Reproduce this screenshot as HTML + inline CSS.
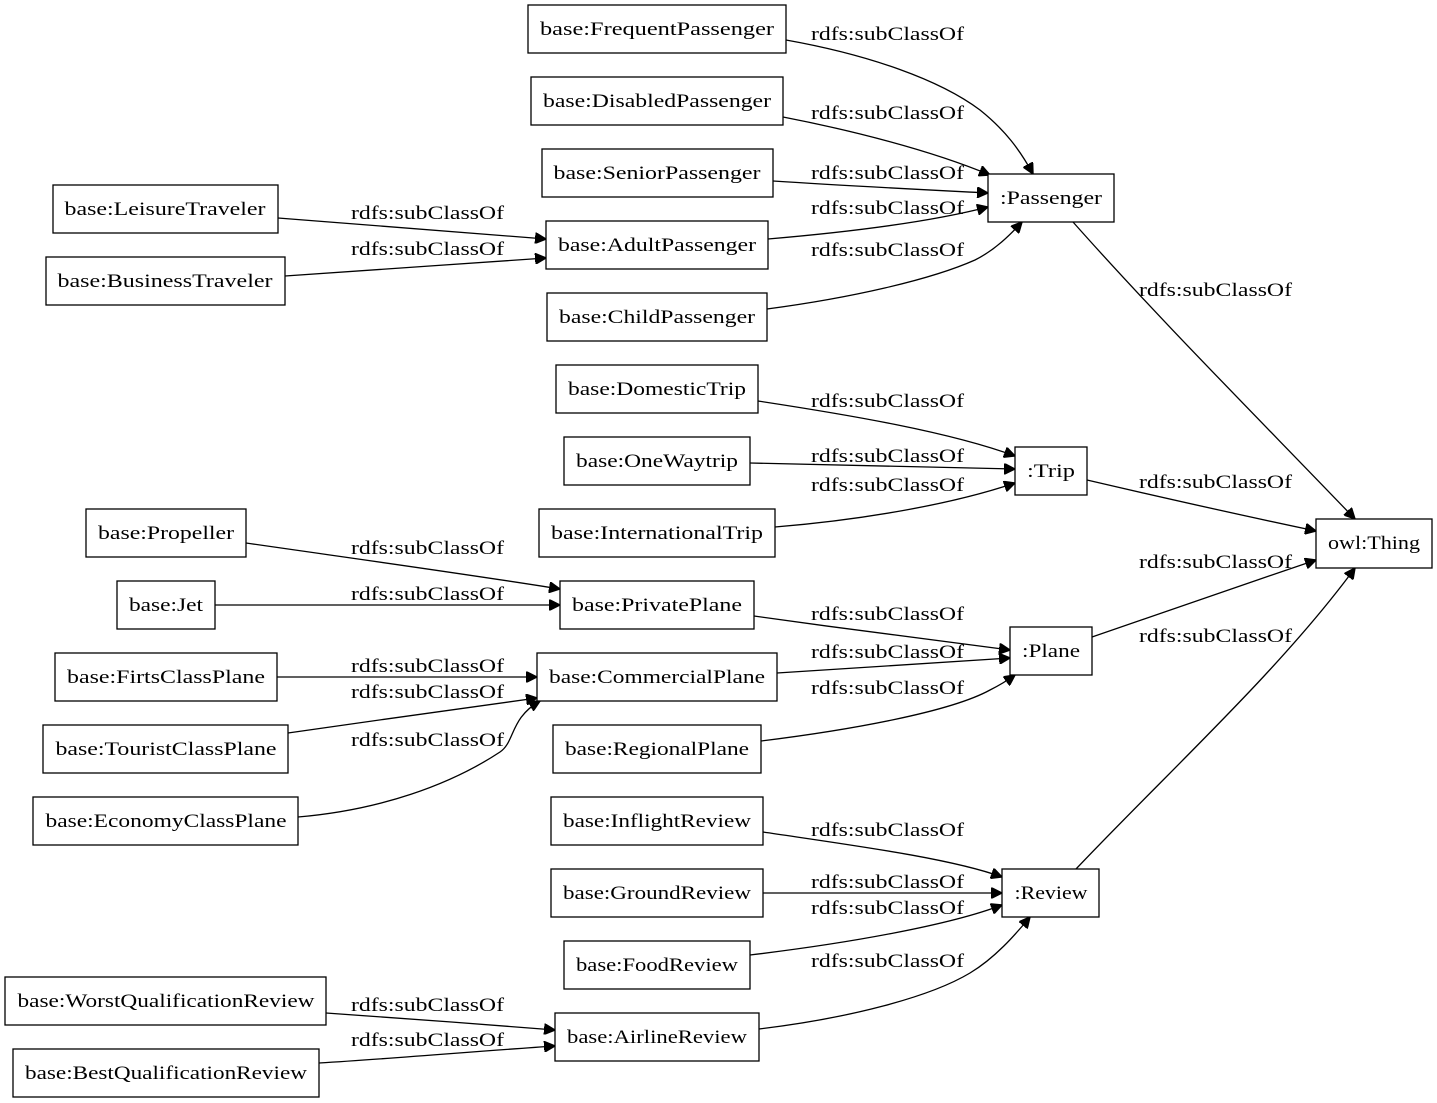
<!DOCTYPE html>
<html><head><meta charset="utf-8"><style>
body{margin:0;background:#fff}
svg{display:block}
text{font-family:"Liberation Serif",serif;font-size:19px;fill:#000}
rect{fill:#fff;stroke:#000;stroke-width:1.3}
path{fill:none;stroke:#000;stroke-width:1.3}
</style></head><body>
<svg width="1437" height="1103" viewBox="0 0 1437 1103" xmlns="http://www.w3.org/2000/svg">
<defs><marker id="a" viewBox="0 0 10 10" refX="10" refY="5" markerWidth="11" markerHeight="11" markerUnits="userSpaceOnUse" orient="auto"><path d="M0,0 L10,5 L0,10 z" style="fill:#000;stroke:#000"/></marker></defs>
<g>
<path d="M786,40 C870,55 940,80 980,110 C1005,130 1020,150 1033,174" marker-end="url(#a)"/>
<path d="M783,117 C850,130 930,150 990,175" marker-end="url(#a)"/>
<path d="M773,181 C850,186 930,190 988,193" marker-end="url(#a)"/>
<path d="M768,239 C850,232 930,222 988,207" marker-end="url(#a)"/>
<path d="M767,309 C850,298 930,280 975,260 C995,250 1010,235 1022,222" marker-end="url(#a)"/>
<path d="M278,218 C370,225 460,232 546,239" marker-end="url(#a)"/>
<path d="M285,276 C370,270 460,264 546,258" marker-end="url(#a)"/>
<path d="M1073,222 C1160,320 1260,420 1355,519" marker-end="url(#a)"/>
<path d="M758,401 C850,415 950,432 1015,456" marker-end="url(#a)"/>
<path d="M750,463 C850,466 940,468 1015,469" marker-end="url(#a)"/>
<path d="M775,527 C860,520 950,505 1015,483" marker-end="url(#a)"/>
<path d="M1087,480 C1160,497 1240,515 1316,531" marker-end="url(#a)"/>
<path d="M246,543 C350,558 460,573 560,589" marker-end="url(#a)"/>
<path d="M215,605 L560,605" marker-end="url(#a)"/>
<path d="M754,616 C840,628 930,640 1010,650" marker-end="url(#a)"/>
<path d="M777,673 C860,668 940,663 1010,658" marker-end="url(#a)"/>
<path d="M761,741 C850,730 950,712 990,690 C1000,685 1008,680 1015,675" marker-end="url(#a)"/>
<path d="M1092,637 C1160,613 1240,586 1316,560" marker-end="url(#a)"/>
<path d="M277,677 L537,677" marker-end="url(#a)"/>
<path d="M288,733 C370,721 460,709 537,698" marker-end="url(#a)"/>
<path d="M298,817 C380,810 450,785 500,752 C515,742 510,718 540,701" marker-end="url(#a)"/>
<path d="M1076,869 C1170,770 1280,670 1355,568" marker-end="url(#a)"/>
<path d="M763,832 C850,845 950,858 1002,877" marker-end="url(#a)"/>
<path d="M763,893 L1002,893" marker-end="url(#a)"/>
<path d="M750,955 C850,943 950,925 1002,905" marker-end="url(#a)"/>
<path d="M759,1029 C850,1018 930,997 970,973 C995,958 1015,935 1030,917" marker-end="url(#a)"/>
<path d="M326,1013 C400,1018 480,1024 555,1030" marker-end="url(#a)"/>
<path d="M319,1063 C400,1058 480,1051 555,1046" marker-end="url(#a)"/>
</g>
<g>
<text x="811" y="40" textLength="153" lengthAdjust="spacingAndGlyphs">rdfs:subClassOf</text>
<text x="811" y="119" textLength="153" lengthAdjust="spacingAndGlyphs">rdfs:subClassOf</text>
<text x="811" y="179" textLength="153" lengthAdjust="spacingAndGlyphs">rdfs:subClassOf</text>
<text x="811" y="214" textLength="153" lengthAdjust="spacingAndGlyphs">rdfs:subClassOf</text>
<text x="811" y="256" textLength="153" lengthAdjust="spacingAndGlyphs">rdfs:subClassOf</text>
<text x="351" y="219" textLength="153" lengthAdjust="spacingAndGlyphs">rdfs:subClassOf</text>
<text x="351" y="255" textLength="153" lengthAdjust="spacingAndGlyphs">rdfs:subClassOf</text>
<text x="1139" y="296" textLength="153" lengthAdjust="spacingAndGlyphs">rdfs:subClassOf</text>
<text x="811" y="407" textLength="153" lengthAdjust="spacingAndGlyphs">rdfs:subClassOf</text>
<text x="811" y="462" textLength="153" lengthAdjust="spacingAndGlyphs">rdfs:subClassOf</text>
<text x="811" y="491" textLength="153" lengthAdjust="spacingAndGlyphs">rdfs:subClassOf</text>
<text x="1139" y="488" textLength="153" lengthAdjust="spacingAndGlyphs">rdfs:subClassOf</text>
<text x="351" y="554" textLength="153" lengthAdjust="spacingAndGlyphs">rdfs:subClassOf</text>
<text x="351" y="600" textLength="153" lengthAdjust="spacingAndGlyphs">rdfs:subClassOf</text>
<text x="811" y="620" textLength="153" lengthAdjust="spacingAndGlyphs">rdfs:subClassOf</text>
<text x="811" y="658" textLength="153" lengthAdjust="spacingAndGlyphs">rdfs:subClassOf</text>
<text x="811" y="694" textLength="153" lengthAdjust="spacingAndGlyphs">rdfs:subClassOf</text>
<text x="1139" y="568" textLength="153" lengthAdjust="spacingAndGlyphs">rdfs:subClassOf</text>
<text x="351" y="672" textLength="153" lengthAdjust="spacingAndGlyphs">rdfs:subClassOf</text>
<text x="351" y="698" textLength="153" lengthAdjust="spacingAndGlyphs">rdfs:subClassOf</text>
<text x="351" y="746" textLength="153" lengthAdjust="spacingAndGlyphs">rdfs:subClassOf</text>
<text x="1139" y="642" textLength="153" lengthAdjust="spacingAndGlyphs">rdfs:subClassOf</text>
<text x="811" y="836" textLength="153" lengthAdjust="spacingAndGlyphs">rdfs:subClassOf</text>
<text x="811" y="888" textLength="153" lengthAdjust="spacingAndGlyphs">rdfs:subClassOf</text>
<text x="811" y="914" textLength="153" lengthAdjust="spacingAndGlyphs">rdfs:subClassOf</text>
<text x="811" y="967" textLength="153" lengthAdjust="spacingAndGlyphs">rdfs:subClassOf</text>
<text x="351" y="1011" textLength="153" lengthAdjust="spacingAndGlyphs">rdfs:subClassOf</text>
<text x="351" y="1046" textLength="153" lengthAdjust="spacingAndGlyphs">rdfs:subClassOf</text>
</g>
<g text-anchor="middle">
<rect x="528" y="5" width="258" height="48"/><text x="657" y="35" textLength="234" lengthAdjust="spacingAndGlyphs">base:FrequentPassenger</text>
<rect x="531" y="77" width="252" height="48"/><text x="657" y="107" textLength="228" lengthAdjust="spacingAndGlyphs">base:DisabledPassenger</text>
<rect x="542" y="149" width="231" height="48"/><text x="657" y="179" textLength="207" lengthAdjust="spacingAndGlyphs">base:SeniorPassenger</text>
<rect x="53" y="185" width="225" height="48"/><text x="165" y="215" textLength="201" lengthAdjust="spacingAndGlyphs">base:LeisureTraveler</text>
<rect x="546" y="221" width="222" height="48"/><text x="657" y="251" textLength="198" lengthAdjust="spacingAndGlyphs">base:AdultPassenger</text>
<rect x="46" y="257" width="239" height="48"/><text x="165" y="287" textLength="215" lengthAdjust="spacingAndGlyphs">base:BusinessTraveler</text>
<rect x="547" y="293" width="220" height="48"/><text x="657" y="323" textLength="196" lengthAdjust="spacingAndGlyphs">base:ChildPassenger</text>
<rect x="988" y="174" width="126" height="48"/><text x="1051" y="204" textLength="102" lengthAdjust="spacingAndGlyphs">:Passenger</text>
<rect x="556" y="365" width="202" height="48"/><text x="657" y="395" textLength="178" lengthAdjust="spacingAndGlyphs">base:DomesticTrip</text>
<rect x="564" y="437" width="186" height="48"/><text x="657" y="467" textLength="162" lengthAdjust="spacingAndGlyphs">base:OneWaytrip</text>
<rect x="539" y="509" width="236" height="48"/><text x="657" y="539" textLength="212" lengthAdjust="spacingAndGlyphs">base:InternationalTrip</text>
<rect x="1015" y="447" width="72" height="48"/><text x="1051" y="477" textLength="48" lengthAdjust="spacingAndGlyphs">:Trip</text>
<rect x="1316" y="519" width="116" height="49"/><text x="1374" y="549" textLength="92" lengthAdjust="spacingAndGlyphs">owl:Thing</text>
<rect x="86" y="509" width="160" height="48"/><text x="166" y="539" textLength="136" lengthAdjust="spacingAndGlyphs">base:Propeller</text>
<rect x="117" y="581" width="98" height="48"/><text x="166" y="611" textLength="74" lengthAdjust="spacingAndGlyphs">base:Jet</text>
<rect x="560" y="581" width="194" height="48"/><text x="657" y="611" textLength="170" lengthAdjust="spacingAndGlyphs">base:PrivatePlane</text>
<rect x="55" y="653" width="222" height="48"/><text x="166" y="683" textLength="198" lengthAdjust="spacingAndGlyphs">base:FirtsClassPlane</text>
<rect x="537" y="653" width="240" height="48"/><text x="657" y="683" textLength="216" lengthAdjust="spacingAndGlyphs">base:CommercialPlane</text>
<rect x="1010" y="627" width="82" height="48"/><text x="1051" y="657" textLength="58" lengthAdjust="spacingAndGlyphs">:Plane</text>
<rect x="43" y="725" width="245" height="48"/><text x="166" y="755" textLength="221" lengthAdjust="spacingAndGlyphs">base:TouristClassPlane</text>
<rect x="553" y="725" width="208" height="48"/><text x="657" y="755" textLength="184" lengthAdjust="spacingAndGlyphs">base:RegionalPlane</text>
<rect x="33" y="797" width="265" height="48"/><text x="166" y="827" textLength="241" lengthAdjust="spacingAndGlyphs">base:EconomyClassPlane</text>
<rect x="551" y="797" width="212" height="48"/><text x="657" y="827" textLength="188" lengthAdjust="spacingAndGlyphs">base:InflightReview</text>
<rect x="551" y="869" width="212" height="48"/><text x="657" y="899" textLength="188" lengthAdjust="spacingAndGlyphs">base:GroundReview</text>
<rect x="1002" y="869" width="97" height="48"/><text x="1051" y="899" textLength="73" lengthAdjust="spacingAndGlyphs">:Review</text>
<rect x="564" y="941" width="186" height="48"/><text x="657" y="971" textLength="162" lengthAdjust="spacingAndGlyphs">base:FoodReview</text>
<rect x="5" y="977" width="321" height="48"/><text x="166" y="1007" textLength="297" lengthAdjust="spacingAndGlyphs">base:WorstQualificationReview</text>
<rect x="555" y="1013" width="204" height="48"/><text x="657" y="1043" textLength="180" lengthAdjust="spacingAndGlyphs">base:AirlineReview</text>
<rect x="13" y="1049" width="306" height="48"/><text x="166" y="1079" textLength="282" lengthAdjust="spacingAndGlyphs">base:BestQualificationReview</text>
</g>
</svg>
</body></html>
